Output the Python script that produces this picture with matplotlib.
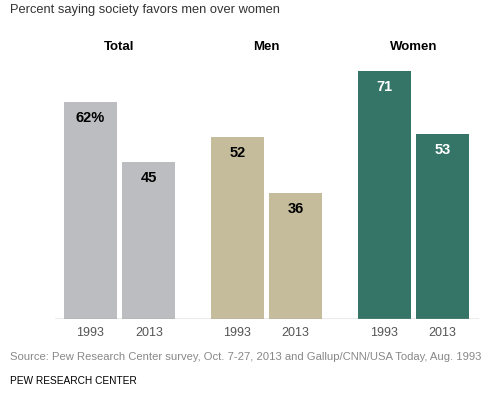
import numpy as np
import matplotlib.pyplot as plt

plt.rcParams['font.family'] = ['Liberation Sans', 'DejaVu Sans']

groups = ['Total', 'Men', 'Women']
years = ['1993', '2013']
vals_1993 = [62, 52, 71]
vals_2013 = [45, 36, 53]
labels_1993 = ['62%', '52', '71']
labels_2013 = ['45', '36', '53']
colors = ['#bcbdc0', '#c5bc9c', '#357568']
text_colors = ['black', 'black', 'white']

fig = plt.figure(figsize=(5, 3.95), dpi=100)
ax = fig.add_axes([55 / 500, 76 / 395, 424 / 500, 280 / 395])

x = np.arange(len(groups))
w = 0.36
off = 0.199

for i in range(len(groups)):
    for xs, v, lab in [(x[i] - off, vals_1993[i], labels_1993[i]),
                       (x[i] + off, vals_2013[i], labels_2013[i])]:
        ax.bar(xs, v, width=w, color=colors[i], edgecolor='none')
        ax.text(xs, v - 4.6, lab, ha='center', va='center', fontsize=10.5,
                fontweight='bold', color=text_colors[i])
        ax.text(xs, -2.2, years[0] if xs < x[i] else years[1], ha='center',
                va='top', fontsize=9, color='#555555')
    ax.text(x[i], 77.6, groups[i], ha='center', va='center', fontsize=9.5,
            fontweight='bold', color='black')

ax.set_xlim(-0.439, 2.446)
ax.set_ylim(0, 80)
ax.axis('off')
ax.axhline(0, color='#a0a0a0', lw=1)

fig.text(10 / 500, 1 - 10 / 395, 'Percent saying society favors men over women',
         ha='left', va='center', fontsize=9.3, color='#333333')
fig.text(10 / 500, 1 - 357 / 395,
         'Source: Pew Research Center survey, Oct. 7-27, 2013 and Gallup/CNN/USA Today, Aug. 1993',
         ha='left', va='center', fontsize=8.1, color='#888888')
fig.text(10 / 500, 1 - 381 / 395, 'PEW RESEARCH CENTER', ha='left', va='center',
         fontsize=7.3, color='black')

fig.savefig('out.png', dpi=100)
